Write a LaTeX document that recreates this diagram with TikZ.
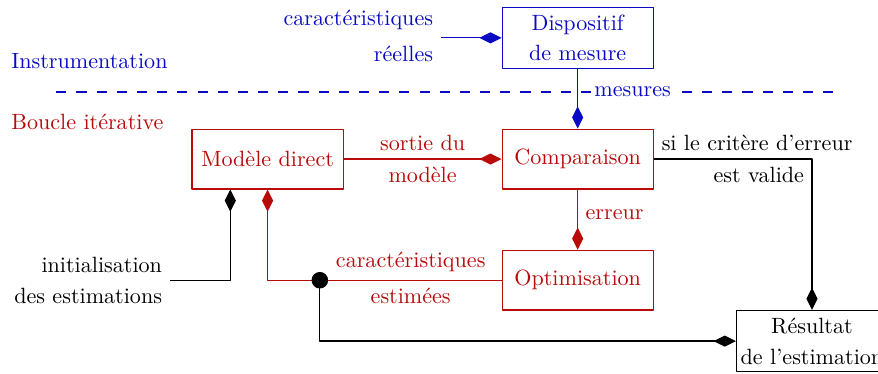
\documentclass[11pt,tikz,border=0pt]{standalone}
\usepackage{xcolor}
\usepackage{tikz}
\usetikzlibrary{arrows.meta,calc,positioning}

\definecolor{instr}{RGB}{10,10,195}
\definecolor{boucle}{RGB}{185,10,10}

\begin{document}
\begin{tikzpicture}[>={Diamond[length=11pt,width=5.5pt]},line width=0.6pt,line join=round,
  bloc/.style={draw,minimum width=2.63cm,minimum height=1.04cm,align=center}]
  % ---- frame -------------------------------------------------------------
  \useasboundingbox (0,0) rectangle (15.29,6.50);
  \clip (0,0) rectangle (15.29,6.50);

  % ---- blocks ------------------------------------------------------------
  \node[bloc,instr] (Dispositif) at (10.06,5.84) {Dispositif\\[1.7pt]de mesure};
  \node[bloc,boucle] (Modele) at (4.66,3.73) {Modèle direct};
  \node[bloc,boucle] (Comparaison) at (10.06,3.73) {Comparaison};
  \node[bloc,boucle] (Optimisation) at (10.06,1.62) {Optimisation};
  \node[bloc,inner xsep=1pt] (Resultat) at (14.14,0.56) {Résultat\\[1.7pt]de l'estimation};

  % ---- free ends ---------------------------------------------------------
  \coordinate (reel) at (7.68,5.84);   % real characteristics
  \coordinate (init) at (2.96,1.62);   % initial estimate
  \coordinate (dot)  at (5.57,1.62);   % branch point
  \coordinate (dashL) at (0.98,4.90);
  \coordinate (dashR) at (14.51,4.90);

  % ---- zones -------------------------------------------------------------
  \node[instr,anchor=west] (lblInstr) at (0.06,5.44) {Instrumentation};
  \node[boucle,anchor=west] (lblBoucle) at (0.06,4.37) {Boucle itérative};
  \draw[instr,line width=0.75pt,dash pattern=on 5pt off 5pt] (dashL) -- (dashR);

  % ---- instrumentation ---------------------------------------------------
  \draw[instr,->] (reel)
        node[above left] (lblCarR) {caractéristiques}
        node[below left] (lblReel) {réelles} -- (Dispositif.west);
  \node[instr,fill=white,inner sep=1pt,right=7pt] (lblMesures)
       at (Dispositif.south |- dashL) {mesures};
  \draw[instr,->] (Dispositif.south) -- (Comparaison.north);

  % ---- iterative loop ----------------------------------------------------
  \draw[boucle,->] (Modele.east) -- node[above] (lblSortie) {sortie du}
        node[below] (lblModele) {modèle} (Comparaison.west);
  \draw[boucle,->] (Comparaison.south) -- node[right,pos=0.42] (lblErreur) {erreur}
        (Optimisation.north);
  \draw[boucle,->] (Optimisation.west) -- node[above] (lblCarE) {caractéristiques}
        node[below] (lblEstim) {estimées} (dot) -| (Modele.south);

  % ---- initialisation and result -----------------------------------------
  \draw[->] (init) node[above left] (lblInit) {initialisation}
        node[below left] (lblDes) {des estimations}
        -| ($(Modele.south)+(-0.65,0)$);
  \draw[->] (dot) |- (Resultat.west);
  \draw[->] (Comparaison.east) -| node[pos=0,above right] (lblCritere) {si le critère d'erreur}
        node[pos=0.5,below left] (lblValide) {est valide} (Resultat.north);
  \fill (dot) circle (4.1pt);
\end{tikzpicture}
\end{document}
